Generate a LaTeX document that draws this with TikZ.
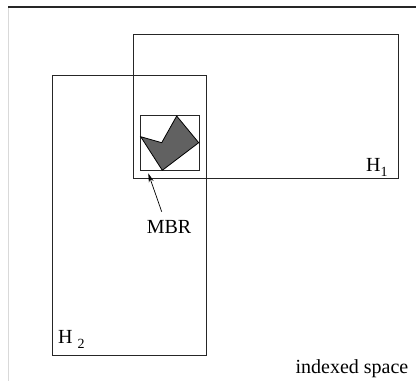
\documentclass[tikz,border=0pt]{standalone}
\usepackage{fontspec}
\setmainfont{Liberation Serif}
\usetikzlibrary{arrows.meta}
\begin{document}
\begin{tikzpicture}[x=1pt,y=-1pt,
  box/.style={draw=black!85,line width=1pt},
  lbl/.style={inner sep=0pt,font=\fontsize{20}{22}\selectfont}]
\useasboundingbox (0,0) rectangle (416,381);
\draw[black!15,line width=0.8pt] (8,7) -- (8,381);
\draw[black!85,line width=1.2pt] (8,7) -- (416,7);
\node[box,minimum width=265,minimum height=144,anchor=north west,inner sep=0pt] (h1) at (133,34) {};
\node[box,minimum width=154,minimum height=280,anchor=north west,inner sep=0pt] (h2) at (52,75) {};
\node[box,minimum width=59,minimum height=55,anchor=north west,inner sep=0pt] (mbr) at (140,115) {};
\filldraw[fill=black!62,draw=black,line width=0.8pt] (140.7,136.7) -- (161.7,142.7) -- (176.7,116) -- (198.7,142.7) -- (162.3,170.3) -- cycle;
\node[lbl,anchor=base] (mbrt) at (169,233) {MBR};
\coordinate (tip) at (148.3,173.3);
\draw[-{Stealth[length=9pt,width=5pt]},line width=0.7pt] (161.7,211.7) -- (tip);
\node[lbl,anchor=base west] (h1t) at (366,171) {H\raisebox{-5pt}{\fontsize{14}{15}\selectfont 1}};
\node[lbl,anchor=base west] (h2t) at (58,343) {H \raisebox{-5pt}{\fontsize{14}{15}\selectfont 2}};
\node[lbl,anchor=base] (is) at (352,373) {indexed space};
\end{tikzpicture}
\end{document}
